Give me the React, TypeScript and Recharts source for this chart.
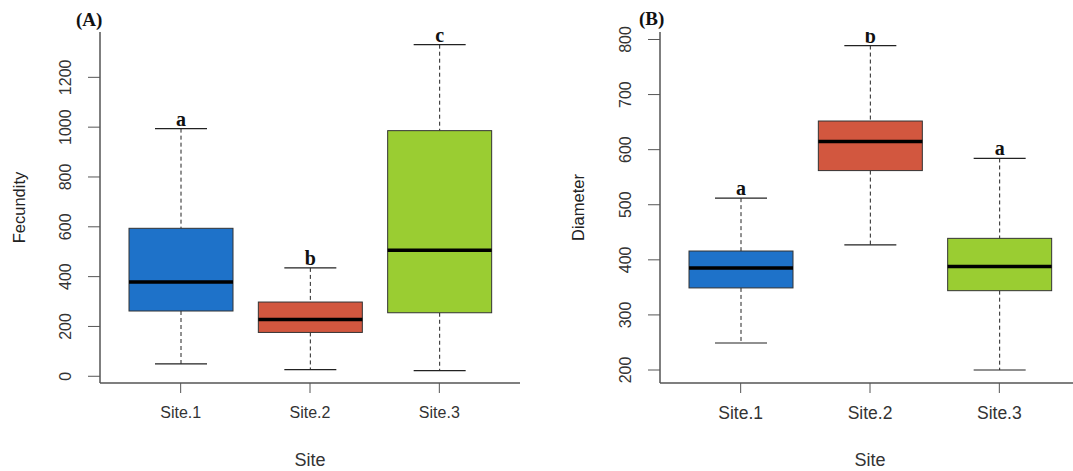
import React from "react";
import { ComposedChart, Bar, XAxis, YAxis, Label } from "recharts";

const sites = ["Site.1", "Site.2", "Site.3"];
const boxColors = ["#1e72c9", "#d2573f", "#9acd32"];

// (A) Fecundity
const fecMin = [50, 27, 23];
const fecQ1 = [262, 176, 255];
const fecMedian = [378, 228, 506];
const fecQ3 = [594, 298, 986];
const fecMax = [994, 435, 1331];
const fecLetters = ["a", "b", "c"];
const fecTicks = [0, 200, 400, 600, 800, 1000, 1200];

// (B) Diameter
const diaMin = [249, 427, 200];
const diaQ1 = [349, 562, 344];
const diaMedian = [385, 615, 388];
const diaQ3 = [416, 652, 439];
const diaMax = [512, 789, 584];
const diaLetters = ["a", "b", "a"];
const diaTicks = [200, 300, 400, 500, 600, 700, 800];

const FRAME = "#555";
const SANS = "'Liberation Sans', Arial, sans-serif";
const SERIF = "'Liberation Serif', 'Times New Roman', serif";

function buildRows(min: number[], q1: number[], med: number[], q3: number[], max: number[], letters: string[]) {
  return sites.map((site, i) => ({
    site,
    box: [q1[i], q3[i]],
    min: min[i],
    median: med[i],
    max: max[i],
    letter: letters[i],
    color: boxColors[i],
  }));
}

// R-style box: range bar gives q1..q3, the rest is placed with the same pixel scale
function BoxShape(props: any) {
  const { x, y, width, height, payload } = props;
  const [lo, hi] = payload.box;
  const k = height / (hi - lo);
  const py = (v: number) => y + (hi - v) * k;
  const cx = x + width / 2;
  const cap = width / 4;
  const top = py(payload.max);
  const bottom = py(payload.min);
  const mid = py(payload.median);
  return (
    <g>
      <line x1={cx} x2={cx} y1={top} y2={y} stroke="#222" strokeDasharray="4 3" />
      <line x1={cx} x2={cx} y1={y + height} y2={bottom} stroke="#222" strokeDasharray="4 3" />
      <line x1={cx - cap} x2={cx + cap} y1={top} y2={top} stroke="#222" strokeWidth={1.2} />
      <line x1={cx - cap} x2={cx + cap} y1={bottom} y2={bottom} stroke="#222" strokeWidth={1.2} />
      <rect x={x} y={y} width={width} height={height} fill={payload.color} stroke="#333" strokeWidth={1} />
      <line x1={x} x2={x + width} y1={mid} y2={mid} stroke="#000" strokeWidth={3.5} />
      <text
        x={cx}
        y={top - 3}
        textAnchor="middle"
        fontFamily={SERIF}
        fontWeight="bold"
        fontSize={20}
        fill="#111"
      >
        {payload.letter}
      </text>
    </g>
  );
}

function YTick(props: any) {
  const { x, y, payload } = props;
  const bx = x - 17;
  return (
    <text
      x={bx}
      y={y}
      transform={`rotate(-90, ${bx}, ${y})`}
      textAnchor="middle"
      fontFamily={SANS}
      fontSize={16}
      fill="#333"
    >
      {payload.value}
    </text>
  );
}

function BoxPanel({
  rows,
  domain,
  ticks,
  yLabel,
  yAxisWidth,
  labelX,
  width,
  xFont,
}: {
  rows: any[];
  domain: [number, number];
  ticks: number[];
  yLabel: string;
  yAxisWidth: number;
  labelX: number;
  width: number;
  xFont: number;
}) {
  return (
    <ComposedChart
      width={width}
      height={471}
      data={rows}
      margin={{ top: 32, right: 20, bottom: 28, left: 0 }}
    >
      <XAxis
        dataKey="site"
        xAxisId="top"
        orientation="top"
        height={0}
        tick={false}
        tickLine={false}
        axisLine={{ stroke: FRAME, strokeWidth: 1.5 }}
      />
      <XAxis
        dataKey="site"
        height={60}
        padding={{ left: 16, right: 16 }}
        tickSize={10}
        tickMargin={14}
        tickLine={{ stroke: "#555" }}
        axisLine={{ stroke: FRAME, strokeWidth: 1.5 }}
        tick={{ fill: "#333", fontSize: xFont, fontFamily: SANS }}
      >
        <Label
          content={({ viewBox }: any) => (
            <text
              x={viewBox.x + viewBox.width / 2}
              y={viewBox.y + 83}
              textAnchor="middle"
              fontFamily={SANS}
              fontSize={18}
              fill="#333"
            >
              Site
            </text>
          )}
        />
      </XAxis>
      <YAxis
        yAxisId="right"
        orientation="right"
        width={0}
        tick={false}
        tickLine={false}
        axisLine={{ stroke: FRAME, strokeWidth: 1.5 }}
      />
      <YAxis
        type="number"
        domain={domain}
        ticks={ticks}
        allowDataOverflow
        width={yAxisWidth}
        tickSize={12}
        tickMargin={0}
        tickLine={{ stroke: "#555" }}
        axisLine={{ stroke: FRAME, strokeWidth: 1.5 }}
        tick={<YTick />}
      >
        <Label
          content={({ viewBox }: any) => {
            const ly = viewBox.y + viewBox.height / 2;
            return (
              <text
                x={labelX}
                y={ly}
                transform={`rotate(-90, ${labelX}, ${ly})`}
                textAnchor="middle"
                fontFamily={SANS}
                fontSize={16.5}
                fill="#222"
              >
                {yLabel}
              </text>
            );
          }}
        />
      </YAxis>
      <Bar dataKey="box" barSize={104} shape={<BoxShape />} isAnimationActive={false} />
    </ComposedChart>
  );
}

export default function App() {
  const fecRows = buildRows(fecMin, fecQ1, fecMedian, fecQ3, fecMax, fecLetters);
  const diaRows = buildRows(diaMin, diaQ1, diaMedian, diaQ3, diaMax, diaLetters);
  const panelTitle: React.CSSProperties = {
    position: "absolute",
    fontFamily: SERIF,
    fontWeight: "bold",
    fontSize: 19,
    color: "#111",
    lineHeight: 1,
  };
  return (
    <div
      style={{
        position: "absolute",
        left: 0,
        top: 0,
        width: 1073,
        height: 471,
        overflow: "hidden",
        background: "#fff",
      }}
    >
      <div style={{ position: "absolute", left: 0, top: 0 }}>
        <BoxPanel
          rows={fecRows}
          domain={[-27, 1382]}
          ticks={fecTicks}
          yLabel="Fecundity"
          yAxisWidth={100}
          labelX={25}
          width={540}
          xFont={16}
        />
      </div>
      <div style={{ position: "absolute", left: 540, top: 0 }}>
        <BoxPanel
          rows={diaRows}
          domain={[176.4, 813.6]}
          ticks={diaTicks}
          yLabel="Diameter"
          yAxisWidth={120}
          labelX={44}
          width={560}
          xFont={17.5}
        />
      </div>
      <span style={{ ...panelTitle, left: 76, top: 10 }}>(A)</span>
      <span style={{ ...panelTitle, left: 639, top: 9 }}>(B)</span>
    </div>
  );
}
